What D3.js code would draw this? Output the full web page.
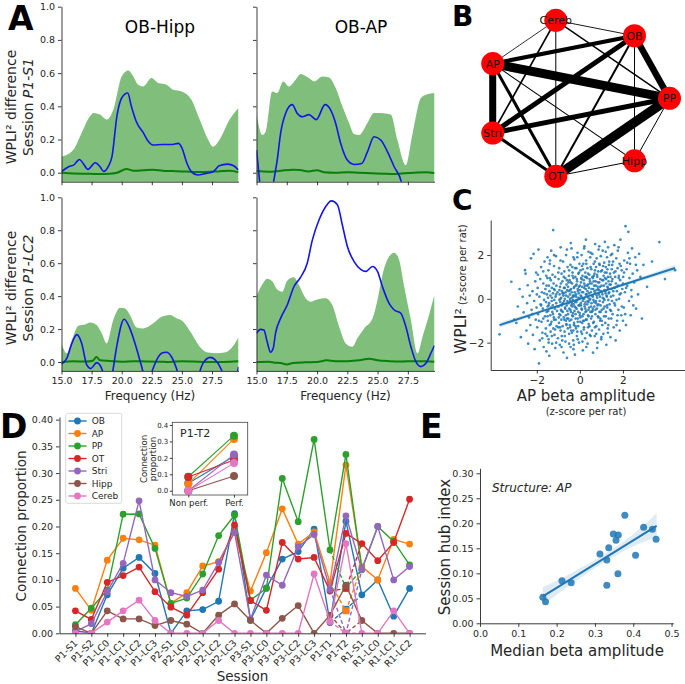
<!DOCTYPE html>
<html><head><meta charset="utf-8">
<script src="https://cdn.jsdelivr.net/npm/d3@7/dist/d3.min.js"></script>
<style>
html,body{margin:0;padding:0;background:#fff;}
svg{display:block;}
</style></head>
<body>
<svg id="fig" width="685" height="684" xmlns="http://www.w3.org/2000/svg"></svg>
<script>
// ================= DATA =================
// ---- Panel A ----
const freqTicks = [15, 17.5, 20, 22.5, 25, 27.5];
const wpliTicks = [0, 0.2, 0.4, 0.6, 0.8, 1.0];
const pairTitles = ["OB-Hipp", "OB-AP"];
const sessionLabelsA = ["P1-S1", "P1-LC2"];

// surrogate band upper bound, observed WPLI² difference (blue), surrogate mean (dark green)
const upper_S1_OBHipp = [[15,0.096],[16,0.14],[16.55,0.22],[17.37,0.34],[17.65,0.36],[18.2,0.35],[18.75,0.32],[19.3,0.38],[20.0,0.58],[20.55,0.615],[20.96,0.58],[21.37,0.53],[21.79,0.52],[22.48,0.57],[23.03,0.54],[23.72,0.53],[24.27,0.50],[24.96,0.49],[25.79,0.44],[26.48,0.32],[27.17,0.2],[27.58,0.157],[28.13,0.2],[28.96,0.32],[29.7,0.39]];
const blue_S1_OBHipp = [[15,0.006],[15.6,0.036],[16,0.046],[16.5,0.08],[16.8,0.056],[17.2,0.02],[17.8,0.06],[18.2,0.036],[18.5,0.008],[18.9,0.04],[19.2,0.1],[19.6,0.34],[20.0,0.45],[20.5,0.48],[20.8,0.40],[21.2,0.31],[21.8,0.24],[22.2,0.19],[22.6,0.167],[23.4,0.17],[24.1,0.17],[24.7,0.177],[25.0,0.15],[25.4,0.06],[25.8,0.005],[26.3,-0.014],[27.0,-0.004],[27.6,0.006],[28.1,0.042],[28.8,0.052],[29.3,0.042],[29.7,0.016]];
const mean_S1_OBHipp = [[15,0.0],[16,-0.004],[17,-0.006],[18,-0.008],[19,-0.006],[19.6,0.0],[20.4,0.022],[21,0.012],[21.8,0.015],[22.6,0.018],[23.4,0.012],[24.2,0.01],[25,0.008],[26,0.005],[27,0.005],[28,0.008],[29,0.012],[29.7,0.003]];

const upper_S1_OBAP = [[15,0.357],[15.47,0.227],[15.75,0.247],[16.3,0.49],[16.71,0.48],[17.21,0.55],[17.68,0.52],[18.23,0.56],[18.64,0.594],[19.33,0.57],[19.75,0.55],[20.44,0.58],[20.99,0.574],[21.54,0.51],[22.09,0.40],[22.64,0.30],[23.06,0.233],[23.47,0.227],[24.16,0.30],[24.71,0.36],[25.26,0.36],[26.09,0.35],[26.64,0.197],[27.33,0.046],[27.89,0.237],[28.58,0.45],[28.99,0.47],[29.7,0.48]];
const blue_S1_OBAP = [[15,0.137],[15.15,0.03],[15.3,-0.08],[15.6,-0.2],[16.1,-0.2],[16.4,-0.06],[16.71,0.076],[16.99,0.237],[17.4,0.357],[17.95,0.41],[18.37,0.357],[18.78,0.337],[19.33,0.35],[19.94,0.32],[20.66,0.41],[21.13,0.377],[21.54,0.297],[21.95,0.177],[22.5,0.076],[23.06,0.05],[23.69,0.056],[24.16,0.126],[24.71,0.217],[25.26,0.197],[25.82,0.126],[26.37,0.036],[26.98,-0.06],[27.3,-0.2],[29.7,-0.2]];
const mean_S1_OBAP = [[15,0.01],[16,0.006],[17,0.012],[18,0.018],[18.6,0.016],[19.3,0.008],[20,0.015],[20.6,0.003],[21.5,0.0],[22.5,0.003],[23.5,0.0],[24.5,-0.003],[25.5,-0.006],[26.3,-0.008],[27,-0.004],[28,0.0],[29,0.003],[29.7,-0.002]];

const upper_LC2_OBHipp = [[15,0.113],[15.44,0.053],[15.86,0.134],[16.41,0.22],[16.96,0.227],[17.37,0.24],[17.92,0.225],[18.34,0.174],[18.75,0.113],[19.3,0.255],[19.86,0.33],[20.27,0.326],[20.68,0.285],[21.24,0.21],[21.79,0.204],[22.62,0.235],[23.31,0.275],[24.0,0.285],[24.55,0.265],[25.1,0.245],[25.79,0.174],[26.48,0.093],[27.17,0.057],[27.86,0.053],[28.55,0.057],[29.1,0.083],[29.7,0.15]];
const blue_LC2_OBHipp = [[15,-0.012],[15.44,0.022],[15.86,0.113],[16.27,0.166],[16.68,0.113],[17.1,-0.018],[17.43,-0.04],[17.92,-0.004],[18.2,-0.02],[18.48,-0.07],[18.9,-0.2],[19.25,-0.06],[19.6,0.1],[20.2,0.26],[20.7,0.2],[21.2,0.09],[21.7,-0.04],[22.1,-0.15],[22.55,-0.05],[22.9,0.012],[23.31,0.053],[23.72,0.059],[24.13,0.032],[24.55,-0.04],[24.96,-0.15],[26.2,-0.15],[26.48,-0.06],[26.75,-0.008],[27.36,0.028],[27.72,0.016],[28.27,-0.045],[28.69,-0.15],[29.24,-0.15],[29.7,-0.03]];
const mean_LC2_OBHipp = [[15,0.0],[16,0.004],[17,0.003],[17.6,0.008],[17.9,0.03],[18.2,0.01],[19,0.006],[20,0.002],[21,0.005],[22,0.003],[23,0.002],[24,0.0],[25,0.005],[26,0.003],[27,0.0],[28,0.0],[29,0.002],[29.7,0.005]];

const upper_LC2_OBAP = [[15,0.40],[15.47,0.47],[15.88,0.506],[16.3,0.49],[16.71,0.44],[17.12,0.427],[17.54,0.494],[18.09,0.514],[18.5,0.467],[19.06,0.387],[19.47,0.366],[20.02,0.38],[20.71,0.387],[21.26,0.346],[21.82,0.215],[22.37,0.113],[22.92,0.093],[23.33,0.144],[23.89,0.204],[24.58,0.265],[24.99,0.377],[25.4,0.528],[25.95,0.64],[26.37,0.664],[26.78,0.62],[27.2,0.457],[27.75,0.255],[28.3,0.053],[28.71,0.154],[29.13,0.255],[29.7,0.41]];
const blue_LC2_OBAP = [[15,0.174],[15.33,0.198],[15.61,0.194],[15.88,0.123],[16.16,0.059],[16.38,0.083],[16.57,0.174],[16.99,0.265],[17.54,0.346],[18.09,0.457],[18.64,0.514],[19.19,0.6],[19.61,0.74],[20.16,0.862],[20.71,0.943],[21.18,0.978],[21.68,0.955],[22.09,0.832],[22.51,0.70],[23.06,0.61],[23.61,0.563],[24.02,0.55],[24.58,0.58],[24.99,0.55],[25.4,0.457],[25.95,0.356],[26.37,0.316],[26.92,0.296],[27.33,0.215],[27.75,0.093],[28.16,0.002],[28.58,-0.028],[28.99,-0.008],[29.4,0.053],[29.7,0.1]];
const mean_LC2_OBAP = [[15,0.0],[16,0.002],[16.5,-0.004],[17,-0.006],[17.5,-0.015],[18,-0.006],[19,-0.002],[20,0.0],[20.8,0.01],[21.5,0.005],[22.5,0.005],[23.5,0.01],[24.3,0.02],[25,0.01],[26,0.005],[27,0.003],[28,0.005],[29,0.005],[29.7,0.002]];

// ---- Panel B ----
const structures = ["PP","OB","Cereb","AP","Stri","OT","Hipp"]; // circular order
const edges = [
  ["AP","PP",9],["OT","PP",9.5],["AP","Stri",7],["OB","PP",6.5],["Stri","PP",5],["Stri","OB",5],
  ["AP","OB",4],["AP","OT",3],["Stri","OT",3],["OB","OT",2],["Cereb","Stri",1.7],["Cereb","PP",1.4],
  ["Cereb","OB",0.9],["Cereb","AP",0.8],["Cereb","OT",1],["AP","Hipp",1.1],["OB","Hipp",1],["PP","Hipp",1],["OT","Hipp",1]
];

// ---- Panel C ----
const cTicks = [-2, 0, 2];
const apBetaVsWpli = [
[-3.73,-1.62],[-3.18,0.78],[-3.05,-0.95],
[-2.95,-1.1],[-2.88,-0.35],[-2.8,0.45],[-2.74,-1.75],[-2.66,0.09],[-2.61,-0.62],[-2.55,1.31],[-2.52,1.15],
[-2.48,-1.45],[-2.45,-0.2],[-2.42,0.62],[-2.4,-2.05],[-2.36,-0.85],[-2.33,0.15],[-2.3,-1.2],[-2.27,1.85],[-2.24,-0.5],[-2.2,0.35],[-2.18,-1.65],[-2.15,2.05],[-2.12,-0.1],[-2.1,-2.3],[-2.07,0.8],[-2.05,-0.95],[-2.03,1.2],[-2.01,-0.4],
[-1.98,-1.3],[-1.96,0.5],[-1.94,-0.7],[-1.92,2.25],[-1.9,-2.95],[-1.88,0.1],[-1.86,-1.9],[-1.84,0.9],[-1.82,-0.25],[-1.8,1.45],[-1.78,-1.05],[-1.76,0.3],[-1.74,-1.55],[-1.72,-0.45],[-1.7,0.7],[-1.68,-2.2],[-1.66,-0.05],[-1.64,1.7],[-1.62,-0.8],[-1.6,0.45],[-1.58,-1.35],[-1.57,-0.15],[-1.56,1.05],[-1.55,-2.4],[-1.54,-0.6],[-1.53,0.2],[-1.52,-1.7],[-1.51,0.95],[-1.5,-0.35],[-1.5,1.9],
[-1.49,-1.0],[-1.48,0.05],[-1.47,-0.55],[-1.46,1.3],[-1.45,-1.85],[-1.44,0.6],[-1.43,-0.2],[-1.42,-2.6],[-1.41,0.35],[-1.4,-1.2],[-1.39,1.75],[-1.38,-0.75],[-1.37,0.15],[-1.36,-1.5],[-1.35,0.85],[-1.34,-0.4],[-1.33,2.2],[-1.32,-1.05],[-1.31,-0.1],[-1.3,0.5],[-1.29,-2.05],[-1.28,-0.6],[-1.27,1.1],[-1.26,-0.3],[-1.25,0.25],[-1.24,3.14],[-1.23,-1.35],[-1.22,0.7],[-1.21,-0.85],[-1.2,1.5],[-1.19,-0.05],[-1.18,-1.65],[-1.17,0.4],[-1.16,-0.45],[-1.15,1.0],[-1.14,-2.25],[-1.13,0.1],[-1.12,-0.95],[-1.11,1.95],[-1.1,-0.2],[-1.09,0.6],[-1.08,-1.25],[-1.06,-0.55],[-1.04,0.3],[-1.02,-1.8],
[-0.99,0.9],[-0.98,-0.35],[-0.97,-1.1],[-0.96,1.4],[-0.95,-0.7],[-0.94,0.2],[-0.93,-2.1],[-0.92,0.55],[-0.91,-0.15],[-0.9,-1.45],[-0.89,2.35],[-0.88,-0.5],[-0.87,0.05],[-0.86,-0.95],[-0.85,1.15],[-0.84,-1.7],[-0.83,0.35],[-0.82,-0.25],[-0.81,0.8],[-0.8,-1.25],[-0.79,-0.6],[-0.78,1.7],[-0.77,0.15],[-0.76,-2.45],[-0.75,-0.85],[-0.74,0.5],[-0.73,-0.1],[-0.72,1.25],[-0.71,-1.5],[-0.7,0.0],[-0.69,-0.4],[-0.68,0.95],[-0.67,-1.95],[-0.66,0.3],[-0.65,-0.75],[-0.64,2.0],[-0.63,-1.15],[-0.62,0.65],[-0.61,-0.3],[-0.6,-2.7],[-0.59,0.4],[-0.58,-0.55],[-0.57,1.45],[-0.56,-1.35],[-0.55,0.1],[-0.54,-0.9],[-0.53,0.75],[-0.52,-0.2],[-0.51,1.05],[-0.5,-1.6],[-0.95,-0.05],[-0.85,-0.3],[-0.75,0.25],[-0.65,-1.0],[-0.55,0.55],
[-0.49,-0.45],[-0.48,0.85],[-0.47,-1.2],[-0.46,0.2],[-0.45,-0.1],[-0.44,1.55],[-0.43,-2.2],[-0.42,-0.6],[-0.41,0.45],[-0.4,-0.95],[-0.39,2.3],[-0.38,0.05],[-0.37,-1.55],[-0.36,0.7],[-0.35,-0.35],[-0.34,1.2],[-0.33,-0.8],[-0.32,0.15],[-0.31,-1.9],[-0.3,0.95],[-0.29,-0.25],[-0.28,0.5],[-0.27,-1.1],[-0.26,1.8],[-0.25,-0.55],[-0.24,0.3],[-0.23,-2.55],[-0.22,-0.15],[-0.21,1.0],[-0.2,-0.7],[-0.19,0.6],[-0.18,-1.35],[-0.17,0.1],[-0.16,1.4],[-0.15,-0.45],[-0.14,-1.7],[-0.13,0.8],[-0.12,-0.05],[-0.11,2.1],[-0.1,-0.9],[-0.09,0.35],[-0.08,-1.25],[-0.07,1.15],[-0.06,-0.3],[-0.05,0.55],[-0.04,-2.0],[-0.03,0.0],[-0.02,1.6],[-0.01,-0.65],[-0.45,0.4],[-0.4,-0.3],[-0.35,1.45],[-0.3,-1.45],[-0.25,0.15],[-0.2,-0.4],[-0.15,0.65],[-0.1,-1.05],[-0.05,0.25],[-0.42,2.55],[-0.28,-2.1],[-0.12,1.9],[-0.33,-0.05],
[0.01,0.4],[0.02,-0.85],[0.03,1.3],[0.04,-0.2],[0.05,0.75],[0.06,-1.5],[0.07,0.1],[0.08,2.0],[0.09,-0.5],[0.1,0.55],[0.11,-1.1],[0.12,1.05],[0.13,-0.1],[0.14,-2.35],[0.15,0.3],[0.16,1.6],[0.17,-0.7],[0.18,0.85],[0.19,-1.3],[0.2,0.0],[0.21,2.4],[0.22,-0.35],[0.23,0.6],[0.24,-1.8],[0.25,1.2],[0.26,-0.15],[0.27,0.45],[0.28,-0.95],[0.29,1.75],[0.3,-0.55],[0.31,0.2],[0.32,-1.55],[0.33,0.95],[0.34,-0.25],[0.35,1.4],[0.36,-2.05],[0.37,0.65],[0.38,-0.75],[0.39,0.05],[0.4,2.15],[0.41,-1.15],[0.42,0.5],[0.43,-0.4],[0.44,1.1],[0.45,-0.05],[0.46,-1.65],[0.47,0.8],[0.48,1.9],[0.49,-0.6],[0.05,-0.3],[0.1,1.5],[0.15,-1.0],[0.2,0.7],[0.25,-0.45],[0.3,1.0],[0.35,0.35],[0.4,-0.15],[0.45,0.9],[0.12,-1.95],[0.28,2.7],[0.38,-1.3],[0.08,0.9],
[0.51,0.3],[0.52,-0.9],[0.53,1.35],[0.54,-0.2],[0.55,0.7],[0.56,-1.45],[0.57,0.15],[0.58,2.05],[0.59,-0.55],[0.6,0.95],[0.61,-2.46],[0.62,0.45],[0.63,-0.05],[0.64,1.6],[0.65,-1.05],[0.66,0.6],[0.67,-0.35],[0.68,1.15],[0.69,-1.7],[0.7,0.25],[0.71,2.5],[0.72,-0.7],[0.73,0.8],[0.74,-0.1],[0.75,1.45],[0.76,-1.25],[0.77,0.4],[0.78,1.85],[0.79,-0.45],[0.8,0.05],[0.81,1.0],[0.82,-2.0],[0.83,0.55],[0.84,-0.8],[0.85,1.25],[0.86,-0.25],[0.87,2.25],[0.88,0.2],[0.89,-1.4],[0.9,0.75],[0.91,-0.6],[0.92,1.55],[0.93,0.1],[0.94,-1.0],[0.95,0.9],[0.96,-0.3],[0.97,1.95],[0.98,0.35],[0.99,-1.85],[0.55,-0.6],[0.65,1.05],[0.75,-0.2],[0.85,0.45],[0.95,-0.9],[0.7,1.7],
[1.01,0.6],[1.02,-0.5],[1.03,1.3],[1.04,-1.2],[1.05,0.2],[1.06,2.2],[1.07,-0.15],[1.08,0.85],[1.09,-1.6],[1.1,1.05],[1.11,0.0],[1.12,-0.8],[1.13,1.65],[1.14,0.4],[1.15,-0.35],[1.16,2.6],[1.17,0.95],[1.18,-1.1],[1.19,0.25],[1.2,1.45],[1.21,-0.6],[1.22,0.7],[1.23,-2.1],[1.24,1.2],[1.25,0.1],[1.26,1.9],[1.27,-0.4],[1.28,0.55],[1.29,-1.35],[1.3,1.0],[1.31,2.35],[1.32,-0.05],[1.33,0.8],[1.34,-0.9],[1.35,1.55],[1.36,0.3],[1.38,-0.25],[1.4,1.15],[1.42,-1.75],[1.43,0.65],[1.44,2.0],[1.45,-0.55],[1.46,0.45],[1.48,1.35],[1.49,-0.1],
[1.51,0.9],[1.52,-0.7],[1.54,1.7],[1.55,0.15],[1.57,-1.3],[1.58,1.2],[1.6,2.45],[1.61,0.5],[1.63,-0.3],[1.64,1.0],[1.66,-1.9],[1.67,0.7],[1.69,1.85],[1.7,-0.05],[1.72,0.35],[1.73,-1.0],[1.75,1.4],[1.76,2.2],[1.78,0.6],[1.79,-0.5],[1.81,1.05],[1.82,0.0],[1.84,1.6],[1.85,-1.45],[1.87,0.85],[1.88,2.7],[1.9,0.25],[1.92,-0.75],[1.94,1.3],[1.97,0.45],
[2.01,1.0],[2.04,-0.4],[2.06,1.75],[2.09,0.3],[2.12,3.32],[2.14,-1.2],[2.17,1.35],[2.2,0.6],[2.23,2.1],[2.25,3.06],[2.28,-0.1],[2.3,0.95],[2.33,1.6],[2.36,-0.75],[2.39,0.4],[2.42,2.3],[2.45,1.15],[2.48,-0.3],
[2.52,0.75],[2.57,1.9],[2.61,-0.45],[2.66,1.3],[2.7,0.2],[2.75,2.05],[2.81,1.0],[2.88,-0.9],[2.95,1.55],
[3.12,0.55],[3.35,1.7],[3.69,2.59],[3.95,0.9],[4.42,1.31],
[-1.7,-0.9],[-1.65,0.25],[-1.6,-1.6],[-1.55,0.6],[-1.45,-0.3],[-1.4,0.95],[-1.35,-1.15],[-1.3,0.05],[-1.25,-0.7],[-1.2,0.45],[-1.15,-1.4],[-1.1,0.2],[-1.05,-0.35],[-1.0,1.2],[-0.98,-0.85],[-0.95,0.4],[-0.92,-1.3],[-0.9,0.0],[-0.88,0.7],[-0.85,-0.55],[-0.82,-1.9],[-0.8,0.25],[-0.78,-0.2],[-0.75,1.0],[-0.72,-0.95],[-0.7,0.5],[-0.68,-0.45],[-0.65,0.15],[-0.62,-1.2],[-0.6,0.85],[-0.58,-0.1],[-0.55,-0.7],[-0.52,0.35],[-0.5,1.3],[-0.48,-1.0],[-0.46,0.0],[-0.44,-0.5],[-0.42,0.75],[-0.4,-1.45],[-0.38,0.3],[-0.36,-0.2],[-0.34,1.05],[-0.32,-0.65],[-0.3,0.1],[-0.28,-1.2],[-0.26,0.55],[-0.24,-0.35],[-0.22,1.4],[-0.2,-0.9],[-0.18,0.2],[-0.16,-0.15],[-0.14,0.9],[-0.12,-1.5],[-0.1,0.45],[-0.08,-0.6],[-0.06,0.05],[-0.04,1.2],[-0.02,-0.3],[0.0,0.6],[0.02,-1.05],[0.04,0.15],[0.06,0.95],[0.08,-0.45],[0.1,0.3],[0.12,-0.8],[0.14,1.35],[0.16,0.0],[0.18,-1.4],[0.2,0.5],[0.22,-0.25],[0.24,1.0],[0.26,-0.6],[0.28,0.2],[0.3,1.6],[0.32,-0.95],[0.34,0.6],[0.36,-0.1],[0.38,1.15],[0.4,-0.5],[0.42,0.25],[0.44,-1.25],[0.46,0.7],[0.48,0.0],[0.5,1.45],[0.52,-0.35],[0.54,0.45],[0.56,-0.8],[0.58,1.0],[0.6,0.1],[0.62,-1.1],[0.64,0.8],[0.66,-0.15],[0.68,0.35],[0.7,1.3],[0.72,-0.5],[0.74,0.6],[0.76,-1.6],[0.78,0.15],[0.8,1.1],[0.82,-0.3],[0.84,0.75],[0.86,-0.85],[0.88,0.4],[0.9,1.6],[0.92,-0.1],[0.94,0.55],[0.96,-0.6],[0.98,1.25],[1.0,0.3],[1.02,-1.0],[1.04,0.85],[1.06,0.05],[1.08,1.5],[1.1,-0.45],[1.12,0.6],[1.14,-0.05],[1.16,1.2],[1.18,0.35],[1.2,-0.8],[1.22,0.9],[1.24,0.15],[1.26,-0.3],[1.28,1.35],[1.3,0.5],[1.32,-1.2],[1.34,0.25],[1.36,1.7],[1.38,0.65],[1.4,-0.5],[1.42,1.0],[1.44,0.1],[1.46,-0.9],[1.48,0.8],[1.5,1.55],[1.55,0.35],[1.6,-0.2],[1.65,1.25],[1.7,0.55],[1.75,-0.75],[1.8,0.95],[1.85,0.2],[1.9,1.5],[1.95,-0.35],[2.0,0.7],[2.05,1.2],[2.1,-0.7],[2.15,0.5],[2.2,1.65],
[-1.9,-1.0],[-1.8,-0.3],[-1.75,-1.8],[-1.5,-0.8],[-1.45,-2.0],[-1.3,-1.7],[-1.2,-0.95],[-1.1,-2.0],[-1.0,-1.3],[-0.9,-0.75],[-0.85,-2.2],[-0.7,-1.7],[-0.6,-0.9],[-0.5,-2.05],[-0.45,-1.3],[-0.35,-0.75],[-0.3,-2.3],[-0.2,-1.25],[-0.1,-1.85],[0.0,-0.75],[0.1,-1.6],[0.2,-1.0],[0.3,-2.2],[0.4,-0.8],[0.5,-1.7],[0.6,-0.45],[0.7,-1.3],[0.8,-2.25],[-2.2,-0.7],[-2.0,0.2],[-1.95,1.1],[-1.7,1.25],[-1.4,1.6],[-1.2,2.0],[-0.9,1.75],[-0.6,2.25],[-0.3,1.9],[0.2,2.3],[0.5,2.1],[0.9,2.4],[1.2,2.15],[1.5,2.05],[1.8,2.35],[2.3,1.85],[2.6,1.55],[2.4,0.1],[1.7,-1.2],[1.3,-1.55],[1.0,-1.75],[2.0,-1.0]
];
const cFitX = [-3.73, -2, 0, 2, 4.42];
const cFitY = [-1.2, -0.64, 0.0, 0.64, 1.41];
const cFitHalfCI = [0.12, 0.07, 0.035, 0.07, 0.15];

// ---- Panel D ----
const sessions = ["P1-S1","P1-S2","P1-LC0","P1-LC1","P1-LC2","P1-LC3","P2-S1","P2-LC0","P2-LC1","P2-LC2","P2-LC3","P3-S1","P3-LC0","P3-LC1","P3-LC2","P3-LC3","P1-T1","P1-T2","R1-S1","R1-LC0","R1-LC1","R1-LC2"];
const dTicks = [0, 0.05, 0.10, 0.15, 0.20, 0.25, 0.30, 0.35, 0.40];
const propOB    = [0.005,0.0,0.072,0.122,0.142,0.112,0.0,0.042,0.0445,0.06,0.224,0.025,0.085,0.139,0.153,0.195,0.02,0.21,0.072,0.1,0.032,0.084];
const propAP    = [0.084,0.043,0.137,0.178,0.175,0.165,0.056,0.076,0.126,0.134,0.19,0.079,0.151,0.233,0.167,0.19,0.095,0.315,0.125,0.1,0.176,0.167];
const propPP    = [0.016,0.047,0.081,0.223,0.2235,0.159,0.056,0.066,0.111,0.183,0.221,0.062,0.084,0.29,0.209,0.363,0.156,0.335,0.12,0.2,0.172,0.128];
const propOT    = [0.042,0.026,0.0955,0.108,0.124,0.078,0.049,0.034,0.076,0.12,0.203,0.061,0.043,0.17,0.139,0.142,0.079,0.187,0.168,0.136,0.17,0.251];
const propStri  = [0.003,0.018,0.078,0.131,0.248,0.1,0.076,0.069,0.081,0.133,0.189,0.026,0.109,0.09,0.162,0.185,0.082,0.22,0.119,0.2,0.1,0.125];
const propHipp  = [0.0125,0.0,0.042,0.027,0.027,0.0145,0.024,0.017,0.0,0.034,0.055,0.024,0.0,0.028,0.052,0.0,0.034,0.09,0.024,0.0,0.0,0.0];
const propCereb = [0.0,0.0,0.021,0.042,0.062,0.024,0.0,0.0,0.0,0.024,0.0,0.0,0.0,0.0,0.0,0.111,0.022,0.168,0.0,0.0,0.042,0.0];
// P1-T2 non-performing values (OB, AP, PP, OT, Stri, Hipp, Cereb)
const nonPerfT2 = [0.045, 0.042, 0.085, 0.084, 0.0, 0.0, 0.0];
const structNames = ["OB","AP","PP","OT","Stri","Hipp","Cereb"];
const insetCats = ["Non perf.", "Perf."];
const insetTicks = [0, 0.1, 0.2, 0.3, 0.4];

// ---- Panel E ----
const medianBeta = [0.164,0.171,0.214,0.238,0.313,0.336,0.331,0.331,0.348,0.361,0.355,0.360,0.378,0.406,0.427,0.450,0.4595];
const hubIndex   = [0.052,0.043,0.085,0.081,0.1386,0.151,0.1266,0.076,0.1786,0.1766,0.166,0.099,0.216,0.136,0.192,0.188,0.168];
const eXTicks = [0, 0.1, 0.2, 0.3, 0.4, 0.5];
const eYTicks = [0, 0.05, 0.10, 0.15, 0.20, 0.25, 0.30];
const eFitX = [0.164, 0.24, 0.32, 0.40, 0.461];
const eFitY = [0.054, 0.090, 0.128, 0.166, 0.195];
const eFitLo = [0.036, 0.079, 0.120, 0.154, 0.172];
const eFitHi = [0.072, 0.101, 0.136, 0.178, 0.220];

// ================= DRAWING =================
const F = "DejaVu Sans, sans-serif";
const TC = "#262626";
const palette = ["#1f77b4","#ff7f0e","#2ca02c","#d62728","#9467bd","#8c564b","#e377c2"];
const svg = d3.select("#fig").attr("font-family", F);
const defs = svg.append("defs");

function styleAxis(g, fs) {
  g.attr("font-family", F).attr("font-size", fs).attr("color", TC);
  g.select(".domain").attr("stroke-width", 0.9);
  g.selectAll(".tick line").attr("stroke-width", 0.9);
}
function clipRect(id, x, y, w, h) {
  defs.append("clipPath").attr("id", id).append("rect").attr("x", x).attr("y", y).attr("width", w).attr("height", h);
  return `url(#${id})`;
}
function letter(t, x, y, fs) {
  svg.append("text").attr("x", x).attr("y", y).attr("font-size", fs).attr("font-weight", "bold").attr("fill", "#000").text(t);
}

// ---------- Panel A ----------
const aPanels = [
  {key:"a1", x0:61.5, x1:238.5, yt:6.7, yb:181.7, up:upper_S1_OBHipp, bl:blue_S1_OBHipp, mn:mean_S1_OBHipp, showY:true, showX:false},
  {key:"a2", x0:256.5, x1:434.5, yt:6.7, yb:181.7, up:upper_S1_OBAP, bl:blue_S1_OBAP, mn:mean_S1_OBAP, showY:false, showX:false},
  {key:"a3", x0:61.5, x1:238.5, yt:197.3, yb:370.9, up:upper_LC2_OBHipp, bl:blue_LC2_OBHipp, mn:mean_LC2_OBHipp, showY:true, showX:true},
  {key:"a4", x0:256.5, x1:434.5, yt:197.3, yb:370.9, up:upper_LC2_OBAP, bl:blue_LC2_OBAP, mn:mean_LC2_OBAP, showY:false, showX:true}
];
aPanels.forEach(p => {
  const x = d3.scaleLinear().domain([15, 29.7]).range([p.x0, p.x1]);
  const y = d3.scaleLinear().domain([-0.054, 1]).range([p.yb, p.yt]);
  const g = svg.append("g").attr("clip-path", clipRect("clip"+p.key, p.x0, p.yt-2, p.x1-p.x0, p.yb-p.yt+2));
  const area = d3.area().x(d=>x(d[0])).y0(y(-0.3)).y1(d=>y(d[1])).curve(d3.curveMonotoneX);
  const line = d3.line().x(d=>x(d[0])).y(d=>y(d[1])).curve(d3.curveMonotoneX);
  g.append("path").datum(p.up).attr("d", area).attr("fill", "#7fbf7b");
  g.append("path").datum(p.mn).attr("d", line).attr("fill", "none").attr("stroke", "#0a7f0a").attr("stroke-width", 2);
  g.append("path").datum(p.bl).attr("d", line).attr("fill", "none").attr("stroke", "#1414ee").attr("stroke-width", 1.6);
  const ax = svg.append("g").attr("transform", `translate(0,${p.yb})`)
    .call(d3.axisBottom(x).tickValues(freqTicks).tickSizeInner(3.5).tickSizeOuter(0).tickPadding(3)
      .tickFormat(p.showX ? d3.format(".1f") : () => ""));
  styleAxis(ax, 9.5);
  const ay = svg.append("g").attr("transform", `translate(${p.x0},0)`)
    .call(d3.axisLeft(y).tickValues(wpliTicks).tickSizeInner(3.5).tickSizeOuter(0).tickPadding(3)
      .tickFormat(p.showY ? d3.format(".1f") : () => ""));
  styleAxis(ay, 9.5);
  if (p.showX) {
    svg.append("text").attr("x", (p.x0+p.x1)/2).attr("y", 400).attr("text-anchor", "middle")
      .attr("font-size", 12).attr("fill", TC).text("Frequency (Hz)");
  }
});
svg.append("text").attr("x", 160).attr("y", 33).attr("text-anchor", "middle").attr("font-size", 17).text(pairTitles[0]);
svg.append("text").attr("x", 361).attr("y", 33).attr("text-anchor", "middle").attr("font-size", 17).text(pairTitles[1]);
[[107, sessionLabelsA[0]], [288, sessionLabelsA[1]]].forEach(([cy, s]) => {
  svg.append("text").attr("transform", `translate(15.5,${cy}) rotate(-90)`).attr("text-anchor", "middle")
    .attr("font-size", 14).attr("fill", TC).text("WPLI² difference");
  const t = svg.append("text").attr("transform", `translate(33,${cy}) rotate(-90)`).attr("text-anchor", "middle")
    .attr("font-size", 14).attr("fill", TC);
  t.append("tspan").text("Session ");
  t.append("tspan").attr("font-style", "italic").text(s);
});
letter("A", 8, 30, 33);

// ---------- Panel B ----------
const bCx = 576.5, bCy = 98.3, bRx = 93, bRy = 80;
const nodePos = {};
structures.forEach((s, i) => {
  const a = i * 2 * Math.PI / structures.length;
  nodePos[s] = [bCx + bRx * Math.cos(a), bCy - bRy * Math.sin(a)];
});
const wScale = d3.scaleLinear().domain([0, 10]).range([0, 10]);
svg.append("g").selectAll("line").data(edges).join("line")
  .attr("x1", d => nodePos[d[0]][0]).attr("y1", d => nodePos[d[0]][1])
  .attr("x2", d => nodePos[d[1]][0]).attr("y2", d => nodePos[d[1]][1])
  .attr("stroke", "#000").attr("stroke-width", d => wScale(d[2]));
const nodes = svg.append("g").selectAll("g").data(structures).join("g")
  .attr("transform", d => `translate(${nodePos[d][0]},${nodePos[d][1]})`);
nodes.append("circle").attr("r", 11.5).attr("fill", "#ff0000");
nodes.append("text").attr("text-anchor", "middle").attr("dy", "0.36em").attr("font-size", 11).attr("fill", "#111").text(d => d);
letter("B", 452, 26, 28);

// ---------- Panel C ----------
{
  const x = d3.scaleLinear().domain([-4.14, 4.88]).range([490.7, 685]);
  const y = d3.scaleLinear().domain([-3.25, 3.6]).range([370, 220]);
  const band = d3.area().x((d,i)=>x(cFitX[i])).y0((d,i)=>y(cFitY[i]-cFitHalfCI[i])).y1((d,i)=>y(cFitY[i]+cFitHalfCI[i])).curve(d3.curveMonotoneX);
  svg.append("g").selectAll("circle").data(apBetaVsWpli).join("circle")
    .attr("cx", d => x(d[0])).attr("cy", d => y(d[1])).attr("r", 1.35)
    .attr("fill", "#1f77b4").attr("fill-opacity", 0.85);
  svg.append("path").datum(cFitX).attr("d", band).attr("fill", "#1f77b4").attr("fill-opacity", 0.15);
  svg.append("path").datum(cFitX).attr("d", d3.line().x((d,i)=>x(cFitX[i])).y((d,i)=>y(cFitY[i])))
    .attr("fill", "none").attr("stroke", "#1f77b4").attr("stroke-width", 2);
  const fmt = d => d < 0 ? "−" + Math.abs(d) : String(d);
  styleAxis(svg.append("g").attr("transform", "translate(0,370)")
    .call(d3.axisBottom(x).tickValues(cTicks).tickFormat(fmt).tickSizeInner(3.5).tickSizeOuter(0).tickPadding(3)), 10.5);
  styleAxis(svg.append("g").attr("transform", "translate(490.7,0)")
    .call(d3.axisLeft(y).tickValues(cTicks).tickFormat(fmt).tickSizeInner(3.5).tickSizeOuter(0).tickPadding(3)), 10.5);
  const yl = svg.append("text").attr("transform", "translate(466,289) rotate(-90)").attr("text-anchor", "middle").attr("fill", TC);
  yl.append("tspan").attr("font-size", 16).text("WPLI²");
  yl.append("tspan").attr("font-size", 10).text(" (z-score per rat)");
  svg.append("text").attr("x", 586).attr("y", 401).attr("text-anchor", "middle").attr("font-size", 15).attr("fill", TC).text("AP beta amplitude");
  svg.append("text").attr("x", 586).attr("y", 415).attr("text-anchor", "middle").attr("font-size", 10).attr("fill", TC).text("(z-score per rat)");
  letter("C", 452, 210, 28);
}

// ---------- Panel D ----------
{
  const x = d3.scaleLinear().domain([-1, 22]).range([59.5, 425.5]);
  const y = d3.scaleLinear().domain([0, 0.405]).range([633.3, 417]);
  const cp = clipRect("clipD", 59.5, 410, 366, 223.3);
  const allSeries = [propOB, propAP, propPP, propOT, propStri, propHipp, propCereb];
  const plot = svg.append("g").attr("clip-path", cp);
  const line = d3.line().x(d => x(d[0])).y(d => y(d[1]));
  allSeries.forEach((vals, k) => {
    const c = palette[k];
    const pts = vals.map((v, i) => [i, v]);
    const gs = plot.append("g");
    gs.append("path").datum(pts).attr("d", line).attr("fill", "none").attr("stroke", c).attr("stroke-width", 1.4);
    gs.append("path").datum([[16, vals[16]], [17, nonPerfT2[k]], [18, vals[18]]]).attr("d", line)
      .attr("fill", "none").attr("stroke", c).attr("stroke-width", 1.4).attr("stroke-dasharray", "4,2.5");
    gs.selectAll("circle").data(pts).join("circle").attr("cx", d => x(d[0])).attr("cy", d => y(d[1])).attr("r", 3.4).attr("fill", c);
    gs.append("rect").attr("x", x(17) - 3.4).attr("y", y(nonPerfT2[k]) - 3.4).attr("width", 6.8).attr("height", 6.8).attr("fill", c);
  });
  styleAxis(svg.append("g").attr("transform", "translate(59.5,0)")
    .call(d3.axisLeft(y).tickValues(dTicks).tickFormat(d3.format(".2f")).tickSizeInner(3.5).tickSizeOuter(0).tickPadding(3)), 9.5);
  const axb = svg.append("g").attr("transform", "translate(0,633.3)")
    .call(d3.axisBottom(x).tickValues(d3.range(sessions.length)).tickFormat(i => sessions[i]).tickSizeInner(3.5).tickSizeOuter(0));
  styleAxis(axb, 9.5);
  axb.selectAll(".tick text").attr("x", 0).attr("y", 0).attr("dy", "0.35em")
    .attr("text-anchor", "end").attr("transform", "translate(0,8) rotate(-45)");
  svg.append("text").attr("x", 242.5).attr("y", 681).attr("text-anchor", "middle").attr("font-size", 13.5).attr("fill", TC).text("Session");
  svg.append("text").attr("transform", "translate(26,526) rotate(-90)").attr("text-anchor", "middle").attr("font-size", 13.5).attr("fill", TC).text("Connection proportion");

  // legend
  const lg = svg.append("g");
  lg.append("rect").attr("x", 65.7).attr("y", 413.3).attr("width", 56).attr("height", 90).attr("rx", 2)
    .attr("fill", "#fff").attr("fill-opacity", 0.85).attr("stroke", "#d0d0d0").attr("stroke-width", 0.8);
  structNames.forEach((s, k) => {
    const yy = 421 + k * 12.5;
    lg.append("line").attr("x1", 68.5).attr("x2", 86.5).attr("y1", yy).attr("y2", yy).attr("stroke", palette[k]).attr("stroke-width", 1.4);
    lg.append("circle").attr("cx", 77.5).attr("cy", yy).attr("r", 3.4).attr("fill", palette[k]);
    lg.append("text").attr("x", 91.7).attr("y", yy).attr("dy", "0.35em").attr("font-size", 9).attr("fill", TC).text(s);
  });

  // inset
  const ix = d3.scaleLinear().domain([-0.35, 1.3]).range([172.3, 247.7]);
  const iy = d3.scaleLinear().domain([-0.026, 0.4164]).range([495, 422.3]);
  const ig = svg.append("g");
  ig.append("rect").attr("x", 172.3).attr("y", 422.3).attr("width", 75.4).attr("height", 72.7).attr("fill", "#fff").attr("stroke", "#444").attr("stroke-width", 0.8);
  allSeries.forEach((vals, k) => {
    const pts = [[0, nonPerfT2[k]], [1, vals[17]]];
    ig.append("path").datum(pts).attr("d", d3.line().x(d => ix(d[0])).y(d => iy(d[1]))).attr("stroke", palette[k]).attr("stroke-width", 1.1).attr("fill", "none");
    ig.selectAll(null).data(pts).join("circle").attr("cx", d => ix(d[0])).attr("cy", d => iy(d[1])).attr("r", 4).attr("fill", palette[k]);
  });
  const iya = svg.append("g").attr("transform", "translate(172.3,0)")
    .call(d3.axisLeft(iy).tickValues(insetTicks).tickFormat(d3.format(".1f")).tickSizeInner(2.5).tickSizeOuter(0).tickPadding(1.5));
  styleAxis(iya, 7); iya.select(".domain").remove();
  const ixa = svg.append("g").attr("transform", "translate(0,495)")
    .call(d3.axisBottom(ix).tickValues([0, 1]).tickFormat(i => insetCats[i]).tickSizeInner(2.5).tickSizeOuter(0).tickPadding(2));
  styleAxis(ixa, 8.5); ixa.select(".domain").remove();
  svg.append("text").attr("x", 180).attr("y", 437).attr("font-size", 11).attr("fill", TC).text("P1-T2");
  svg.append("text").attr("transform", "translate(147,459) rotate(-90)").attr("text-anchor", "middle").attr("font-size", 8.5).attr("fill", TC).text("Connection");
  svg.append("text").attr("transform", "translate(155.5,459) rotate(-90)").attr("text-anchor", "middle").attr("font-size", 8.5).attr("fill", TC).text("proportion");
  letter("D", 0, 438, 33);
}

// ---------- Panel E ----------
{
  const x = d3.scaleLinear().domain([0, 0.5045]).range([480, 673.3]);
  const y = d3.scaleLinear().domain([0, 0.31]).range([623.3, 468.3]);
  const band = d3.area().x((d,i)=>x(eFitX[i])).y0((d,i)=>y(eFitLo[i])).y1((d,i)=>y(eFitHi[i])).curve(d3.curveMonotoneX);
  svg.append("path").datum(eFitX).attr("d", band).attr("fill", "#1f77b4").attr("fill-opacity", 0.15);
  svg.append("g").selectAll("circle").data(medianBeta).join("circle")
    .attr("cx", d => x(d)).attr("cy", (d, i) => y(hubIndex[i])).attr("r", 3.5)
    .attr("fill", "#1f77b4").attr("fill-opacity", 0.85);
  svg.append("path").datum(eFitX).attr("d", d3.line().x((d,i)=>x(eFitX[i])).y((d,i)=>y(eFitY[i])))
    .attr("fill", "none").attr("stroke", "#1f77b4").attr("stroke-width", 2);
  styleAxis(svg.append("g").attr("transform", "translate(0,623.3)")
    .call(d3.axisBottom(x).tickValues(eXTicks).tickFormat(d3.format(".1f")).tickSizeInner(3.5).tickSizeOuter(0).tickPadding(3)), 9.5);
  styleAxis(svg.append("g").attr("transform", "translate(480,0)")
    .call(d3.axisLeft(y).tickValues(eYTicks).tickFormat(d3.format(".2f")).tickSizeInner(3.5).tickSizeOuter(0).tickPadding(3)), 9.5);
  svg.append("text").attr("x", 577).attr("y", 656).attr("text-anchor", "middle").attr("font-size", 15).attr("fill", TC).text("Median beta amplitude");
  svg.append("text").attr("transform", "translate(450,547) rotate(-90)").attr("text-anchor", "middle").attr("font-size", 15).attr("fill", TC).text("Session hub index");
  svg.append("text").attr("x", 492).attr("y", 492).attr("font-size", 12).attr("font-style", "italic").attr("fill", TC).text("Structure: AP");
  letter("E", 420, 438, 33);
}
</script>
</body></html>
